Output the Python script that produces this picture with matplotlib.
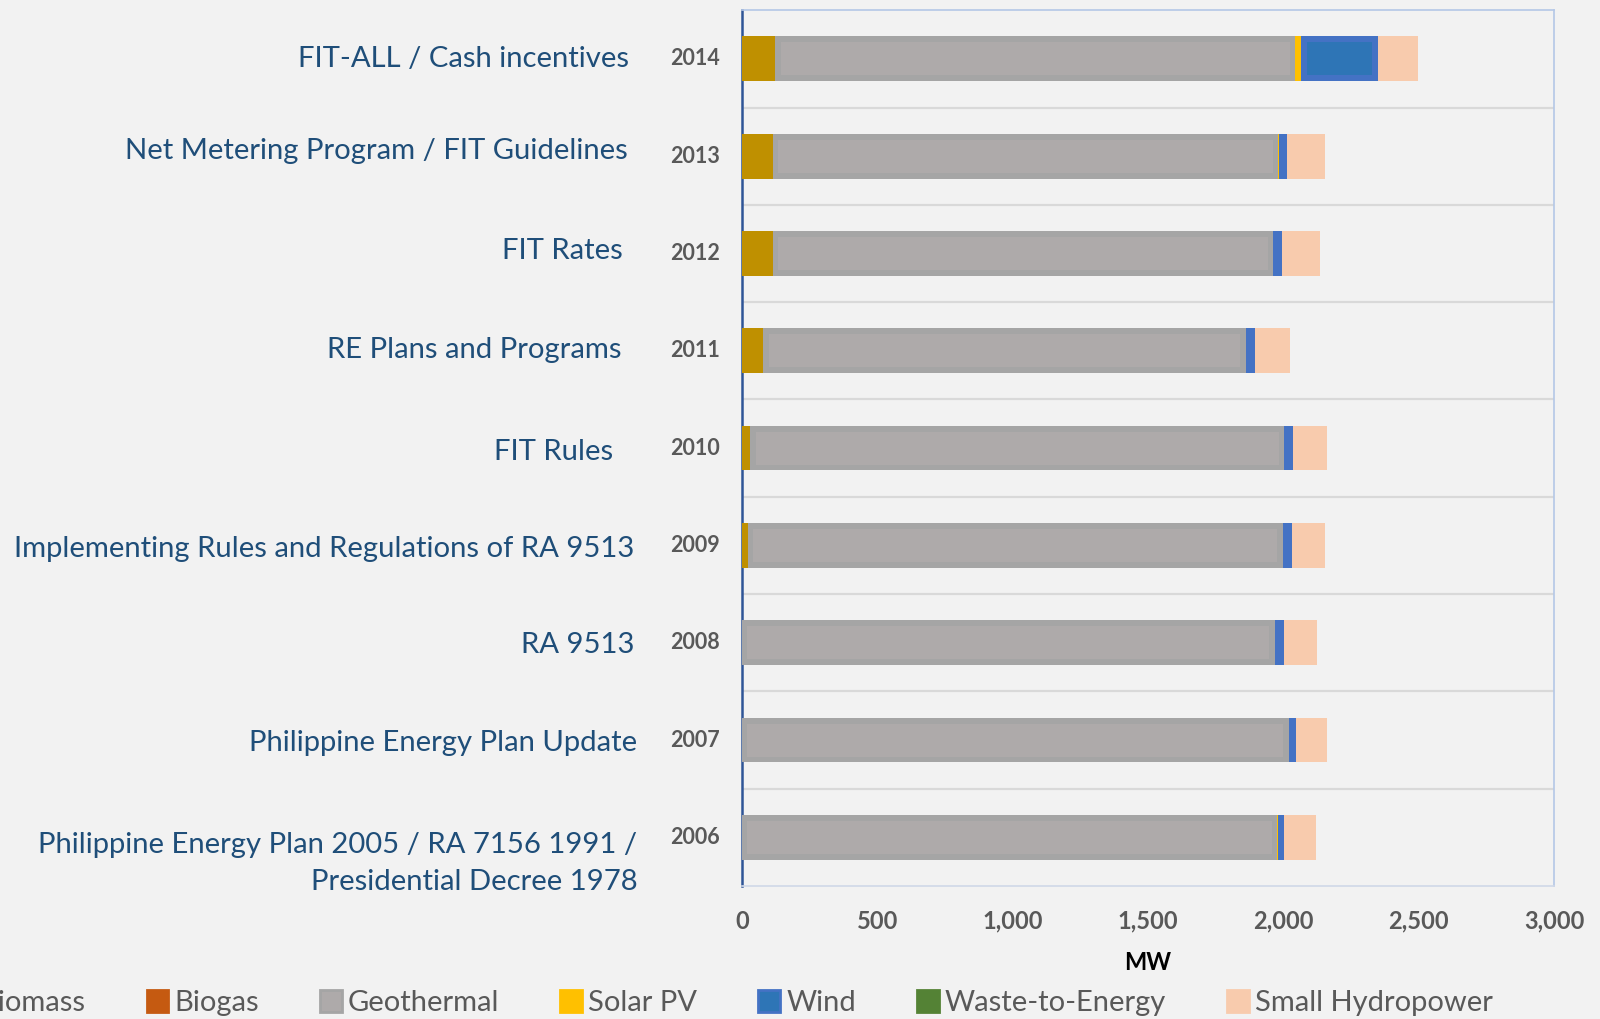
import numpy as np
import matplotlib
matplotlib.use("Agg")
import matplotlib.pyplot as plt
from matplotlib.patches import Patch

plt.rcParams['font.family'] = ['Lato', 'DejaVu Sans']

# data, bottom row first
years = ["2006", "2007", "2008", "2009", "2010", "2011", "2012", "2013", "2014"]
policies = [
    "Philippine Energy Plan 2005 / RA 7156 1991 /\nPresidential Decree 1978",
    "Philippine Energy Plan Update",
    "RA 9513",
    "Implementing Rules and Regulations of RA 9513",
    "FIT Rules",
    "RE Plans and Programs",
    "FIT Rates",
    "Net Metering Program / FIT Guidelines",
    "FIT-ALL / Cash incentives",
]
biomass = [0, 0, 0, 22, 30, 78, 114, 113, 122]
biogas = [0, 0, 0, 0, 0, 0, 0, 0, 0]
geothermal = [1978, 2020, 1968, 1975, 1972, 1783, 1848, 1868, 1921]
solar_pv = [1, 1, 1, 1, 1, 1, 1, 1, 23]
wind = [25, 25, 33, 33, 33, 33, 33, 33, 283]
waste_to_energy = [0, 0, 0, 0, 0, 0, 0, 0, 0]
small_hydro = [117, 116, 122, 124, 124, 128, 140, 139, 150]

x_ticks = [0, 500, 1000, 1500, 2000, 2500, 3000]

series = [
    ("Biomass", biomass, "#BF9000", None),
    ("Biogas", biogas, "#C55A11", None),
    ("Geothermal", geothermal, "#A5A5A5", "#AEAAAA"),
    ("Solar PV", solar_pv, "#FFC000", None),
    ("Wind", wind, "#4472C4", "#2E75B6"),
    ("Waste-to-Energy", waste_to_energy, "#548235", None),
    ("Small Hydropower", small_hydro, "#F8CBAD", None),
]

# label layout (axes fraction right edge, vertical nudge in rows)
label_right = [-0.129, -0.129, -0.132, -0.133, -0.159, -0.149, -0.147, -0.141, -0.139]
label_dy = [-0.27, -0.03, -0.02, -0.04, -0.04, 0.01, 0.03, 0.05, 0.0]

bg = "#F2F2F2"
fig = plt.figure(figsize=(16, 10.19), dpi=100, facecolor=bg)
ax = fig.add_axes([0.4638, 0.1305, 0.5075, 0.8595])
ax.set_facecolor(bg)

y = np.arange(len(years))
h = 0.46
inset_x = 20
inset_y = 0.06
left = np.zeros(len(years))
for name, vals, col, inner in series:
    vals = np.array(vals, dtype=float)
    ax.barh(y, vals, left=left, height=h, color=col, linewidth=0, zorder=3)
    if inner is not None:
        w = np.clip(vals - 2 * inset_x, 0, None)
        ax.barh(y, w, left=left + inset_x, height=h - 2 * inset_y,
                color=inner, linewidth=0, zorder=4)
    left += vals

ax.set_xlim(0, 3000)
ax.set_ylim(-0.5, len(years) - 0.5)
for b in np.arange(0.5, len(years) - 0.5, 1):
    ax.axhline(b, color="#D9D9D9", lw=1.6, zorder=1)

ax.set_xticks(x_ticks)
ax.set_xticklabels([f"{v:,}" for v in x_ticks], fontsize=17,
                   fontweight="bold", color="#595959")
ax.tick_params(axis="x", length=0, pad=17)
ax.set_yticks([])
ax.set_xlabel("MW", fontsize=17, fontweight="bold", color="black", labelpad=13)

ax.spines["left"].set_color("#2F5597")
ax.spines["left"].set_linewidth(1.8)
for s in ["top", "right"]:
    ax.spines[s].set_color("#B4C7E7")
    ax.spines[s].set_linewidth(1.2)
ax.spines["bottom"].set_color("#D0D8E8")
ax.spines["bottom"].set_linewidth(1.2)

trans = ax.get_yaxis_transform()
for i, (yr, pol) in enumerate(zip(years, policies)):
    ax.text(-0.058, i, yr, transform=trans, ha="center", va="center",
            fontsize=15.5, fontweight="bold", color="#595959")
    ax.text(label_right[i], i + label_dy[i], pol, transform=trans, ha="right",
            va="center", fontsize=21.1, color="#1F4E79", linespacing=1.5)

handles = [Patch(facecolor=(inner or col), edgecolor=col, linewidth=2, label=name)
           for name, vals, col, inner in series]
fig.legend(handles=handles, loc="center right", bbox_to_anchor=(0.9495, 0.0157), ncol=7,
           frameon=False, fontsize=21.0, labelcolor="#595959", handlelength=0.75,
           handleheight=0.75, handletextpad=0.2, columnspacing=2.1)

fig.savefig("out.png", dpi=100, facecolor=bg)
